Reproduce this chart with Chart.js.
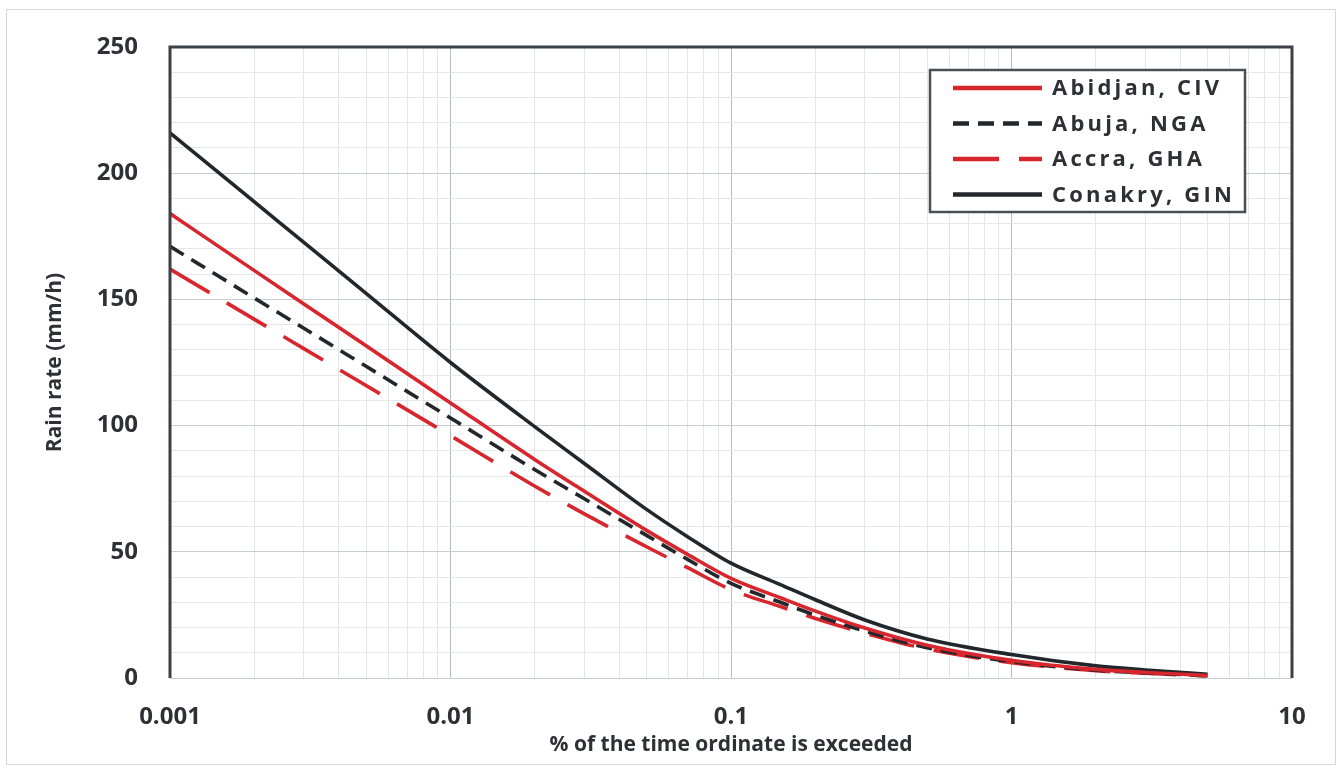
<!DOCTYPE html>
<html>
<head>
<meta charset="utf-8">
<title>Rain rate exceedance</title>
<script src="https://cdn.jsdelivr.net/npm/chart.js@4.4.1/dist/chart.umd.min.js"></script>
<style>
  html, body { margin: 0; padding: 0; background: #fff; }
  #wrap { position: relative; width: 1341px; height: 772px; }
  #frame { position: absolute; left: 6px; top: 9px; width: 1330px; height: 756px; border: 1px solid #d6d6d6; box-sizing: border-box; }
  canvas { position: absolute; left: 0; top: 0; }
</style>
</head>
<body>
<div id="wrap">
  <div id="frame"></div>
  <canvas id="myChart" width="1341" height="772"></canvas>
</div>
<script>
// data (% of time vs rain rate in mm/h)
var percentTime = [0.001, 0.002, 0.003, 0.005, 0.01, 0.02, 0.03, 0.05, 0.07, 0.1, 0.15, 0.2, 0.3, 0.5, 1, 2, 3, 5];
var abidjan = [184, 161.4, 148.2, 131.6, 109, 86.5, 74, 58.5, 49, 39.5, 31.8, 26.5, 19.8, 13, 7, 3.4, 2.2, 1];
var abuja   = [171, 150.5, 138.6, 123.5, 103, 82.5, 71, 56.5, 47, 37.5, 30, 24.9, 18.6, 12, 6.5, 3.1, 2, 0.9];
var accra   = [162, 142.1, 130.5, 115.9, 96, 76, 65, 52, 43.7, 35, 28.3, 23.6, 17.8, 11.5, 6.1, 2.9, 1.9, 0.8];
var conakry = [216, 188.6, 172.6, 152.4, 125, 99.5, 85, 66.8, 56, 45.5, 37, 31, 23, 15.5, 9.3, 4.8, 3.2, 1.5];
var seriesNames = ['Abidjan, CIV', 'Abuja, NGA', 'Accra, GHA', 'Conakry, GIN'];
var yLabelTicks = [0, 50, 100, 150, 200, 250];
var xLabelTicks = [0.001, 0.01, 0.1, 1, 10];

var red = '#d8262e';
var dark = '#22272b';

function toPoints(values) {
    return percentTime.map(function (p, i) {
        return { x: p, y: values[i] };
    });
}

function isDecade(v) {
    var l = Math.log10(v);
    return Math.abs(l - Math.round(l)) < 1e-9;
}

// legend drawn in a box and the dark plot frame
var frameAndLegend = {
    id: 'frameAndLegend',
    afterDraw: function (chart) {
        var ctx = chart.ctx;
        var a = chart.chartArea;
        ctx.save();
        ctx.strokeStyle = '#3b4146';
        ctx.lineWidth = 3;
        ctx.beginPath();
        ctx.moveTo(a.left, a.bottom);
        ctx.lineTo(a.left, a.top);
        ctx.lineTo(a.right, a.top);
        ctx.lineTo(a.right, a.bottom);
        ctx.stroke();

        var bx = a.right - 362, by = a.top + 23, bw = 315, bh = 142;
        ctx.fillStyle = '#fff';
        ctx.fillRect(bx, by, bw, bh);
        ctx.lineWidth = 2.5;
        ctx.strokeStyle = '#4a4f54';
        ctx.strokeRect(bx, by, bw, bh);

        ctx.font = 'bold 22px "Open Sans"';
        ctx.letterSpacing = '3.2px';
        ctx.textBaseline = 'middle';
        ctx.textAlign = 'left';
        chart.data.datasets.forEach(function (ds, i) {
            var y = by + 18 + i * 35.5;
            ctx.beginPath();
            ctx.setLineDash(ds.borderDash || []);
            ctx.strokeStyle = ds.borderColor;
            ctx.lineWidth = 4.5;
            ctx.moveTo(bx + 23, y);
            ctx.lineTo(bx + 112, y);
            ctx.stroke();
            ctx.setLineDash([]);
            ctx.fillStyle = '#2d3135';
            ctx.fillText(ds.label, bx + 122, y + 1);
        });
        ctx.restore();
    }
};

const ctx = document.getElementById('myChart').getContext('2d');
const myChart = new Chart(ctx, {
    type: 'line',
    data: {
        datasets: [{
            label: seriesNames[0],
            data: toPoints(abidjan),
            borderColor: red,
            borderWidth: 3.6
        }, {
            label: seriesNames[1],
            data: toPoints(abuja),
            borderColor: dark,
            borderWidth: 3.6,
            borderDash: [16, 9]
        }, {
            label: seriesNames[2],
            data: toPoints(accra),
            borderColor: red,
            borderWidth: 3.6,
            borderDash: [46, 20]
        }, {
            label: seriesNames[3],
            data: toPoints(conakry),
            borderColor: dark,
            borderWidth: 3.6
        }]
    },
    options: {
        responsive: false,
        animation: false,
        devicePixelRatio: 1,
        layout: { padding: { left: 0, top: 47, right: 49, bottom: 0 } },
        elements: {
            point: { radius: 0 },
            line: { cubicInterpolationMode: 'monotone', fill: false }
        },
        plugins: {
            legend: { display: false },
            tooltip: { enabled: false }
        },
        scales: {
            x: {
                type: 'logarithmic',
                min: 0.001,
                max: 10,
                afterBuildTicks: function (scale) {
                    var ticks = [];
                    for (var e = -3; e < 1; e++) {
                        for (var m = 1; m < 10; m++) {
                            ticks.push({ value: Number((m * Math.pow(10, e)).toPrecision(6)) });
                        }
                    }
                    ticks.push({ value: 10 });
                    scale.ticks = ticks;
                },
                afterFit: function (scale) { scale.height = 94; },
                ticks: {
                    autoSkip: false,
                    maxRotation: 0,
                    padding: 25,
                    color: '#2d3135',
                    font: { family: 'Open Sans', size: 24, weight: 'bold' },
                    callback: function (value) {
                        return xLabelTicks.indexOf(value) >= 0 || isDecade(value) ? String(value) : '';
                    }
                },
                grid: {
                    drawTicks: false,
                    color: function (c) {
                        return c.tick && isDecade(c.tick.value) ? '#b9bdc1' : '#e3e5e7';
                    }
                },
                border: { display: false },
                title: {
                    display: true,
                    text: '% of the time ordinate is exceeded',
                    color: '#2d3135',
                    font: { family: 'Open Sans', size: 21, weight: 'bold' },
                    padding: { top: 0, bottom: 14 }
                }
            },
            y: {
                min: 0,
                max: 250,
                afterFit: function (scale) { scale.width = 170; },
                ticks: {
                    stepSize: 10,
                    autoSkip: false,
                    padding: 32,
                    color: '#2d3135',
                    font: { family: 'Open Sans', size: 24, weight: 'bold' },
                    callback: function (value) {
                        return yLabelTicks.indexOf(value) >= 0 ? String(value) : '';
                    }
                },
                grid: {
                    drawTicks: false,
                    color: function (c) {
                        return c.tick && c.tick.value % 50 === 0 ? '#c9cccf' : '#e6e7e8';
                    }
                },
                border: { display: false },
                title: {
                    display: true,
                    text: 'Rain rate (mm/h)',
                    color: '#2d3135',
                    font: { family: 'Open Sans', size: 21, weight: 'bold' },
                    padding: { top: 42, bottom: 0 }
                }
            }
        }
    },
    plugins: [frameAndLegend]
});
</script>
</body>
</html>
